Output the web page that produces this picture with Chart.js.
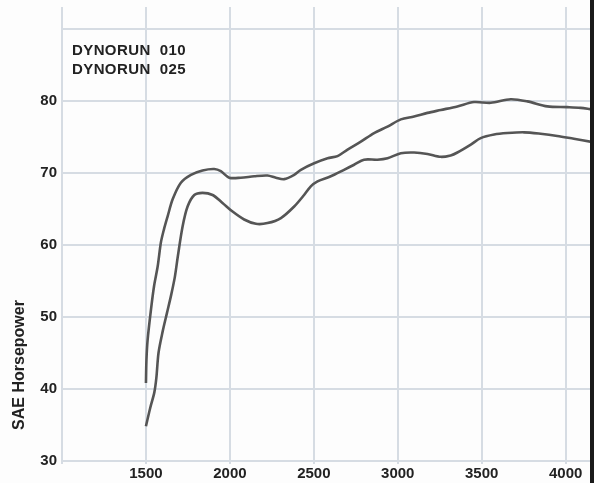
<!DOCTYPE html>
<html>
<head>
<meta charset="utf-8">
<script src="https://cdn.jsdelivr.net/npm/chart.js@4"></script>
<style>
    body { margin: 0; background: #fff; }
    #wrap { width: 590px; height: 483px; border-right: 4px solid #1a1a1a; background: #fdfdfd; }
</style>
</head>
<body>
<div id="wrap"><canvas id="dynoChart"></canvas></div>
<script>
// Run labels
const runLabels = ['DYNORUN  010', 'DYNORUN  025'];

// DYNORUN 010 (upper curve)
const rpm010 = [1500, 1503, 1510, 1530, 1548, 1570, 1589, 1607, 1630, 1659, 1708, 1768, 1837, 1907, 1946, 1996, 2065, 2145, 2224, 2274, 2323, 2383, 2423, 2502, 2582, 2641, 2701, 2780, 2859, 2939, 3018, 3097, 3177, 3256, 3355, 3454, 3554, 3673, 3772, 3891, 4010, 4089, 4150];
const hp010 = [40.8, 44.0, 46.8, 51.0, 54.2, 57.0, 60.3, 62.1, 64.0, 66.3, 68.6, 69.7, 70.3, 70.5, 70.2, 69.3, 69.3, 69.5, 69.6, 69.3, 69.1, 69.7, 70.4, 71.3, 72.0, 72.3, 73.2, 74.3, 75.5, 76.4, 77.4, 77.8, 78.3, 78.7, 79.2, 79.8, 79.7, 80.2, 79.9, 79.2, 79.1, 79.0, 78.8];

// DYNORUN 025 (lower curve)
const rpm025 = [1500, 1525, 1550, 1562, 1575, 1600, 1625, 1650, 1672, 1690, 1718, 1748, 1788, 1837, 1897, 1956, 2016, 2085, 2155, 2224, 2304, 2383, 2442, 2482, 2522, 2601, 2680, 2740, 2799, 2879, 2939, 3018, 3097, 3177, 3256, 3315, 3355, 3435, 3494, 3574, 3653, 3752, 3851, 3950, 4049, 4150];
const hp025 = [34.8, 37.3, 39.5, 41.5, 45.0, 48.0, 50.5, 53.0, 55.5, 58.4, 62.5, 65.3, 66.9, 67.2, 66.9, 65.8, 64.6, 63.5, 62.9, 63.0, 63.7, 65.3, 66.9, 68.1, 68.8, 69.5, 70.4, 71.1, 71.8, 71.8, 72.0, 72.7, 72.8, 72.6, 72.2, 72.4, 72.8, 73.9, 74.8, 75.3, 75.5, 75.6, 75.4, 75.1, 74.7, 74.3];

// Axis ranges and grid ticks
const rpmMin = 1000, rpmMax = 4145;
const hpMin = 29.5, hpMax = 93;
const rpmTicks = [1000, 1500, 2000, 2500, 3000, 3500, 4000];
const hpTicks = [30, 40, 50, 60, 70, 80, 90];
const rpmLabelFrom = 1500;
const hpLabelTo = 80;
const yTitle = 'SAE Horsepower';

const toPoints = (xs, ys) => xs.map((x, i) => ({ x: x, y: ys[i] }));

// Run names inside the plot (top left) and the y axis title
const textPlugin = {
    id: 'dynoText',
    afterDraw(chart) {
        const ctx = chart.ctx;
        const area = chart.chartArea;
        ctx.save();
        ctx.font = 'bold 15px Arial, "Liberation Sans", sans-serif';
        ctx.fillStyle = '#222';
        ctx.textBaseline = 'middle';
        ctx.letterSpacing = '0.4px';
        chart.data.datasets.forEach((ds, i) => {
            ctx.fillText(ds.label, area.left + 10, 51 + i * 19);
        });
        ctx.letterSpacing = '0px';
        ctx.font = 'bold 16px Arial, "Liberation Sans", sans-serif';
        ctx.translate(20, 365);
        ctx.rotate(-Math.PI / 2);
        ctx.textAlign = 'center';
        ctx.fillText(yTitle, 0, 0);
        ctx.restore();
    }
};

const tickFont = { family: 'Arial, "Liberation Sans", sans-serif', size: 15, weight: 'bold' };
const gridStyle = { color: '#d6dce3', lineWidth: 2, drawTicks: false };

new Chart(document.getElementById('dynoChart'), {
    type: 'line',
    data: {
        datasets: [
            {
                label: runLabels[0],
                data: toPoints(rpm010, hp010),
                borderColor: '#555',
                borderWidth: 2.6,
                pointRadius: 0,
                tension: 0.3
            },
            {
                label: runLabels[1],
                data: toPoints(rpm025, hp025),
                borderColor: '#555',
                borderWidth: 2.6,
                pointRadius: 0,
                tension: 0.3
            }
        ]
    },
    options: {
        responsive: true,
        maintainAspectRatio: false,
        animation: false,
        layout: { padding: { top: 7, right: 0, bottom: 0, left: 0 } },
        plugins: {
            legend: { display: false },
            tooltip: { enabled: false }
        },
        scales: {
            x: {
                type: 'linear',
                min: rpmMin,
                max: rpmMax,
                border: { display: false },
                grid: gridStyle,
                afterBuildTicks: scale => { scale.ticks = rpmTicks.map(v => ({ value: v })); },
                afterFit: scale => {
                    scale.height = 18.6;
                    scale.paddingLeft = 0;
                    scale.paddingRight = 0;
                },
                ticks: {
                    padding: 0,
                    color: '#222',
                    font: tickFont,
                    maxRotation: 0,
                    autoSkip: false,
                    callback: v => (v >= rpmLabelFrom ? String(v) : '')
                }
            },
            y: {
                type: 'linear',
                min: hpMin,
                max: hpMax,
                border: { display: false },
                grid: gridStyle,
                afterBuildTicks: scale => { scale.ticks = hpTicks.map(v => ({ value: v })); },
                afterFit: scale => {
                    scale.width = 62;
                    scale.paddingTop = 0;
                    scale.paddingBottom = 0;
                },
                ticks: {
                    padding: 5,
                    color: '#222',
                    font: tickFont,
                    autoSkip: false,
                    callback: v => (v <= hpLabelTo ? String(v) : '')
                }
            }
        }
    },
    plugins: [textPlugin]
});
</script>
</body>
</html>
